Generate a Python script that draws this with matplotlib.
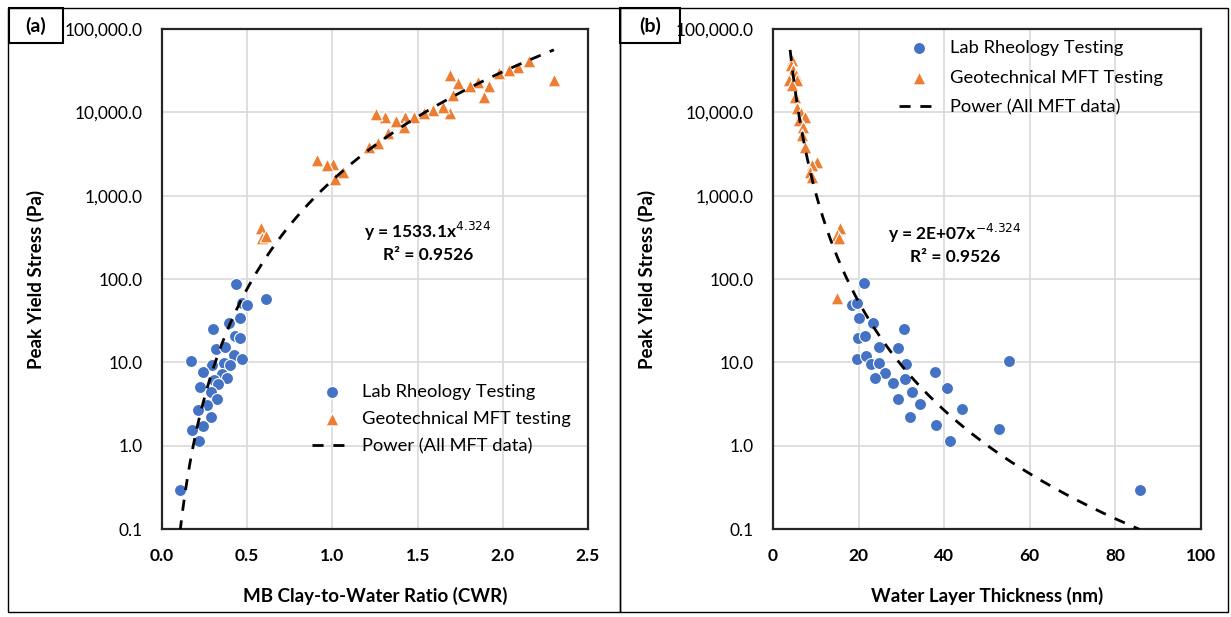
import numpy as np
import matplotlib.pyplot as plt
from matplotlib.patches import Rectangle
from matplotlib.ticker import FixedLocator, FuncFormatter

plt.rcParams['font.family'] = ['Lato', 'DejaVu Sans']

# (a) lab rheology: clay-to-water ratio vs peak yield stress (Pa)
cwr_lab = [0.432, 0.609, 0.468, 0.497, 0.395, 0.458, 0.301, 0.428, 0.458, 0.317,
           0.370, 0.423, 0.468, 0.168, 0.292, 0.364, 0.399, 0.239, 0.350, 0.383,
           0.307, 0.327, 0.223, 0.288, 0.321, 0.266, 0.210, 0.286, 0.239, 0.174,
           0.219, 0.106]
ys_lab_a = [87, 57.5, 51, 48.7, 30, 34, 25, 20.7, 19.4, 14.5,
            15.1, 12.2, 11.1, 10.4, 9.3, 9.7, 9.3, 7.7, 7.2, 6.4,
            6.1, 5.5, 5.0, 4.4, 3.6, 3.1, 2.7, 2.2, 1.74, 1.53,
            1.14, 0.29]

# (a) geotechnical MFT
cwr_mft = [2.300, 2.154, 2.091, 2.036, 1.978, 1.919, 1.890, 1.853, 1.808, 1.735,
           1.690, 1.710, 1.690, 1.651, 1.592, 1.540, 1.481, 1.426, 1.422, 1.371,
           1.309, 1.256, 1.328, 1.270, 1.215, 1.064, 1.005, 1.015, 0.910, 0.968,
           0.580, 0.587, 0.610]
ys_mft_a = [24400, 41700, 35300, 32200, 29900, 20700, 15400, 23300, 20700, 22300,
            28100, 16100, 9900, 11500, 10700, 9900, 8900, 8700, 6700, 7900,
            8900, 9550, 5700, 4250, 3870, 1900, 2400, 1600, 2680, 2330,
            410, 310, 328]

# (b) lab rheology: water layer thickness (nm)
wlt_lab = [21.3, 18.4, 19.7, 20.1, 23.4, 30.7, 19.9, 21.5, 24.8, 29.3,
           19.7, 21.7, 22.8, 24.8, 31.0, 55.1, 37.9, 26.2, 23.8, 30.9,
           28.1, 40.7, 32.4, 29.3, 34.4, 44.1, 32.0, 38.2, 52.9, 41.3,
           85.7]
ys_lab_b = [89, 48.7, 51, 33.7, 30, 24.9, 19.4, 20.7, 15.4, 14.7,
            11, 12, 9.55, 9.7, 9.55, 10.4, 7.7, 7.4, 6.5, 6.25,
            5.6, 4.9, 4.4, 3.66, 3.16, 2.75, 2.2, 1.75, 1.58, 1.14,
            0.29]

# (b) geotechnical MFT
wlt_mft = [4.4, 4.1, 4.7, 5.3, 3.8, 5.5, 4.4, 5.1, 5.7, 6.5,
           7.5, 6.1, 6.9, 6.8, 7.5, 10.2, 9.0, 8.6, 9.0, 15.7,
           15.0, 15.4, 15.0]
ys_mft_b = [42500, 37000, 32200, 28000, 24400, 24400, 21300, 15400, 11200, 9700,
            8900, 8100, 6700, 5350, 3870, 2560, 2330, 1940, 1690, 405,
            337, 308, 58.6]

# power trendlines (Excel)
coef_a, exp_a = 1533.1, 4.324
coef_b, exp_b = 2.25e7, -4.324

yticks = [0.1, 1, 10, 100, 1000, 10000, 100000]
blue = '#4472C4'
orange = '#ED7D31'

W, H = 1231, 617
fig = plt.figure(figsize=(W / 100, H / 100), dpi=100)

# panel frames and (a)/(b) boxes
for x0, x1 in ((8, 620), (620, 1228)):
    fig.patches.append(Rectangle((x0 / W, 1 - 612 / H), (x1 - x0) / W, 604 / H,
                                 transform=fig.transFigure, fill=False,
                                 edgecolor='black', lw=1.0))
for x0, x1, lab in ((9, 63, '(a)'), (620, 680, '(b)')):
    fig.patches.append(Rectangle((x0 / W, 1 - 43 / H), (x1 - x0) / W, 35 / H,
                                 transform=fig.transFigure, fill=False,
                                 edgecolor='black', lw=1.5, zorder=5))
    fig.text((x0 + x1) / 2 / W, 1 - 26 / H, lab, ha='center', va='center',
             fontsize=14, fontweight='bold')


def setup(ax, xlim, xticks, xfmt, xlabel):
    ax.set_yscale('log')
    ax.set_ylim(0.1, 100000)
    ax.set_xlim(*xlim)
    ax.yaxis.set_major_locator(FixedLocator(yticks))
    ax.yaxis.set_minor_locator(FixedLocator([]))
    ax.yaxis.set_major_formatter(FuncFormatter(lambda v, p: f'{v:,.1f}'))
    ax.set_xticks(xticks)
    ax.xaxis.set_major_formatter(FuncFormatter(xfmt))
    ax.grid(True, color='#d9d9d9', lw=1.2)
    ax.set_axisbelow(True)
    ax.tick_params(length=0, pad=14, labelsize=12.5)
    for lbl in ax.get_xticklabels():
        lbl.set_fontweight('bold')
    for s in ax.spines.values():
        s.set_linewidth(1.6)
        s.set_color('#262626')
    ax.set_xlabel(xlabel, fontsize=13.5, fontweight='bold', labelpad=16)
    ax.set_ylabel('Peak Yield Stress (Pa)', fontsize=13.5, fontweight='bold', labelpad=14)


# ---- panel (a)
ax1 = fig.add_axes([162 / W, 88 / H, 426 / W, 500 / H])
setup(ax1, (0, 2.5), [0, 0.5, 1.0, 1.5, 2.0, 2.5], lambda v, p: f'{v:.1f}',
      'MB Clay-to-Water Ratio (CWR)')
ax1.scatter(cwr_lab, ys_lab_a, s=75, color=blue, edgecolor='white', lw=0.8,
            zorder=3, label='Lab Rheology Testing')
ax1.scatter(cwr_mft, ys_mft_a, s=85, marker='^', color=orange, edgecolor='white',
            lw=0.8, zorder=3, label='Geotechnical MFT testing')
xa = np.linspace(min(cwr_lab), max(cwr_mft), 300)
ax1.plot(xa, coef_a * xa ** exp_a, '--', color='black', lw=2, dashes=(4, 3.5),
         zorder=4, label='Power (All MFT data)')
ax1.text(0.625, 0.575, 'y = 1533.1x$^{4.324}$\nR² = 0.9526', transform=ax1.transAxes,
         ha='center', va='center', fontsize=12.5, fontweight='bold', linespacing=1.3)
ax1.legend(loc='upper left', bbox_to_anchor=(0.352, 0.29), frameon=False, fontsize=13.2,
           handlelength=2.2, handletextpad=0.55, borderaxespad=0, borderpad=0,
           labelspacing=0.6)

# ---- panel (b)
ax2 = fig.add_axes([773 / W, 88 / H, 428 / W, 500 / H])
setup(ax2, (0, 100), [0, 20, 40, 60, 80, 100], lambda v, p: f'{v:.0f}',
      'Water Layer Thickness (nm)')
ax2.scatter(wlt_lab, ys_lab_b, s=75, color=blue, edgecolor='white', lw=0.8,
            zorder=3, label='Lab Rheology Testing')
ax2.scatter(wlt_mft, ys_mft_b, s=85, marker='^', color=orange, edgecolor='white',
            lw=0.8, zorder=3, label='Geotechnical MFT Testing')
xb = np.linspace(4.0, max(wlt_lab), 400)
ax2.plot(xb, coef_b * xb ** exp_b, '--', color='black', lw=2, dashes=(4, 3.5),
         zorder=4, label='Power (All MFT data)')
ax2.text(0.425, 0.571, 'y = 2E+07x$^{-4.324}$\nR² = 0.9526', transform=ax2.transAxes,
         ha='center', va='center', fontsize=12.5, fontweight='bold', linespacing=1.3)
ax2.legend(loc='upper left', bbox_to_anchor=(0.295, 0.978), frameon=False, fontsize=13.2,
           handlelength=2.2, handletextpad=0.55, borderaxespad=0, borderpad=0,
           labelspacing=0.75)

fig.savefig('out.png', dpi=100)
